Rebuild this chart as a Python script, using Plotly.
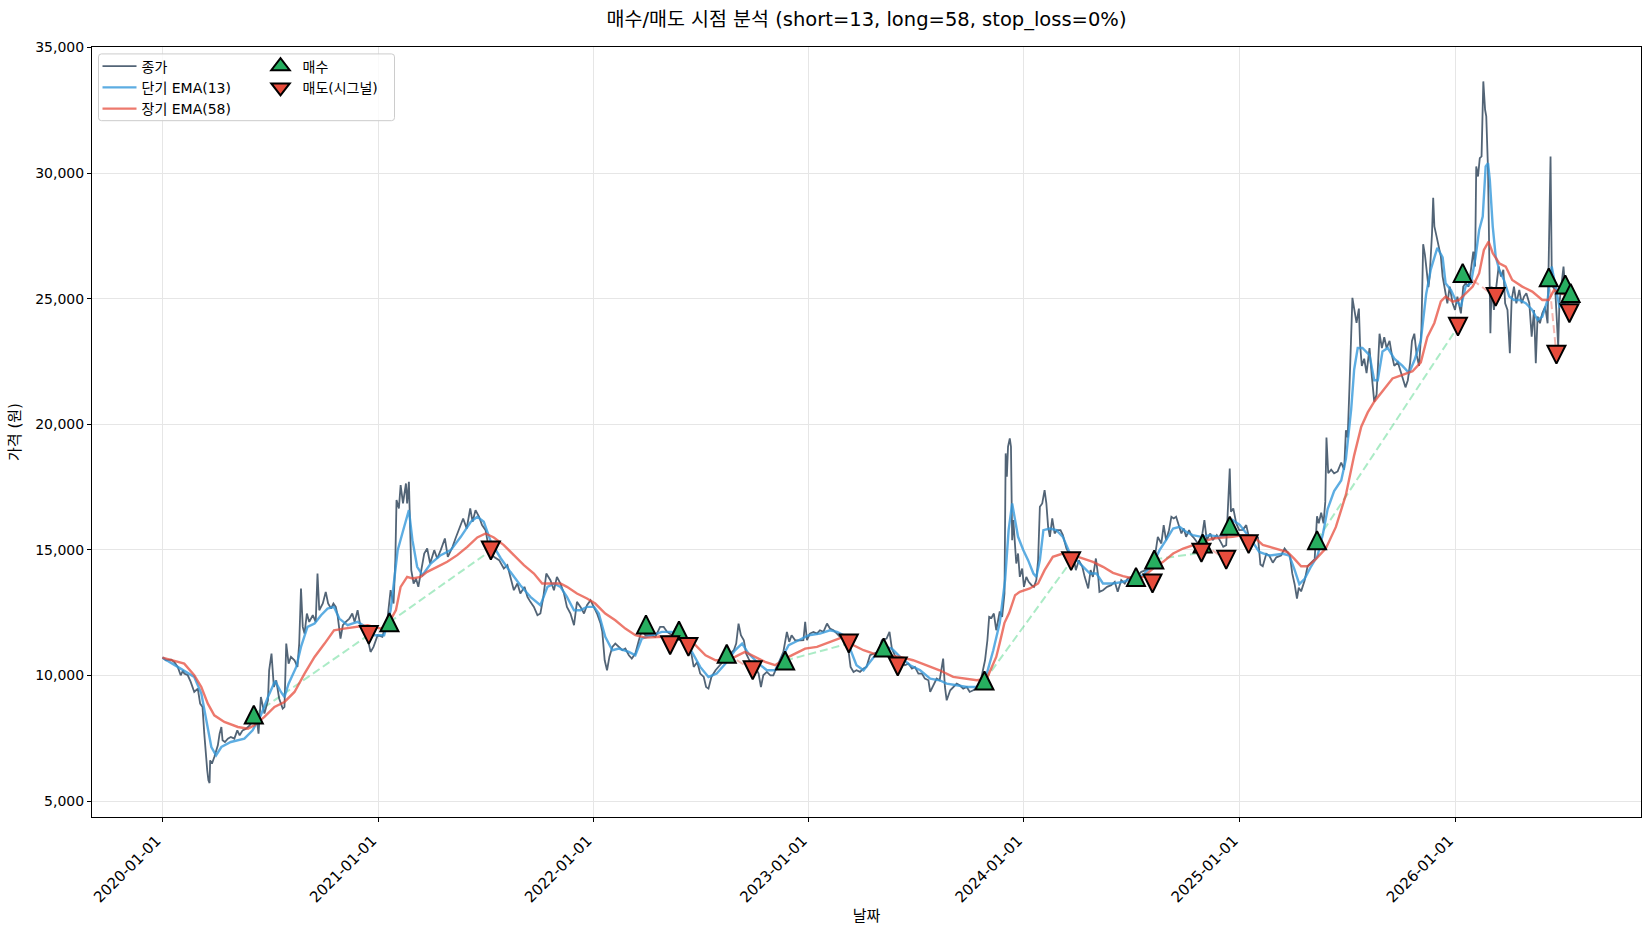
import pandas as pd
import plotly.graph_objects as go

START = pd.Timestamp("2020-01-01")

# ---- close price (day offset from START, value) ----
close_day = [
    0, 6, 15, 20, 26, 31, 35, 37, 43, 48,
    54, 60, 64, 68, 71, 74, 76, 78, 80, 81,
    84, 88, 91, 94, 97, 100, 102, 106, 111, 116,
    122, 127, 131, 136, 142, 148, 153, 157, 161, 163,
    167, 173, 179, 181, 185, 189, 193, 198, 204, 207,
    210, 214, 218, 224, 229, 232, 235, 238, 241, 245,
    249, 255, 260, 263, 266, 272, 277, 281, 286, 290,
    294, 297, 302, 306, 311, 317, 322, 326, 331, 335,
    342, 348, 353, 358, 365, 373, 382, 387, 392, 395,
    397, 401, 404, 408, 413, 415, 418, 420, 422, 426,
    430, 434, 438, 444, 449, 454, 461, 466, 472, 479,
    484, 492, 497, 505, 510, 516, 522, 526, 531, 537,
    542, 548, 554, 562, 571, 579, 585, 590, 596, 602,
    607, 614, 619, 624, 630, 636, 641, 646, 651, 658,
    664, 669, 675, 681, 686, 692, 698, 703, 709, 715,
    720, 726, 732, 737, 743, 746, 750, 754, 758, 763,
    768, 774, 780, 785, 791, 796, 802, 808, 813, 819,
    828, 836, 844, 850, 856, 864, 873, 878, 884, 890,
    897, 901, 907, 912, 918, 922, 926, 931, 938, 943,
    949, 955, 960, 969, 973, 977, 981, 986, 990, 994,
    1000, 1005, 1011, 1015, 1019, 1025, 1031, 1036, 1042, 1048,
    1053, 1059, 1063, 1067, 1073, 1082, 1087, 1090, 1093, 1098,
    1104, 1110, 1115, 1121, 1127, 1132, 1138, 1144, 1149, 1158,
    1163, 1167, 1172, 1177, 1183, 1189, 1194, 1200, 1206, 1214,
    1220, 1228, 1233, 1237, 1242, 1251, 1259, 1265, 1271, 1276,
    1282, 1288, 1293, 1299, 1302, 1307, 1313, 1318, 1324, 1327,
    1330, 1336, 1341, 1347, 1352, 1358, 1364, 1369, 1375, 1383,
    1389, 1395, 1399, 1402, 1406, 1410, 1414, 1420, 1424, 1428,
    1430, 1432, 1434, 1437, 1439, 1441, 1443, 1446, 1448, 1451,
    1454, 1458, 1461, 1465, 1469, 1474, 1478, 1482, 1485, 1488,
    1492, 1496, 1499, 1502, 1505, 1509, 1513, 1517, 1523, 1527,
    1533, 1539, 1544, 1549, 1554, 1560, 1564, 1570, 1574, 1578,
    1583, 1587, 1589, 1595, 1602, 1609, 1615, 1620, 1626, 1632,
    1637, 1643, 1652, 1660, 1668, 1675, 1683, 1688, 1694, 1698,
    1702, 1707, 1711, 1715, 1719, 1724, 1728, 1732, 1736, 1741,
    1745, 1750, 1756, 1762, 1767, 1771, 1777, 1781, 1788, 1793,
    1799, 1804, 1810, 1812, 1816, 1821, 1826, 1832, 1838, 1844,
    1852, 1858, 1862, 1866, 1872, 1877, 1883, 1889, 1897, 1903,
    1908, 1912, 1916, 1920, 1924, 1927, 1931, 1937, 1942, 1948,
    1954, 1958, 1961, 1965, 1969, 1972, 1974, 1977, 1982, 1987,
    1993, 1999, 2004, 2007, 2010, 2013, 2016, 2018, 2021, 2025,
    2029, 2031, 2034, 2038, 2042, 2047, 2051, 2055, 2059, 2064,
    2068, 2072, 2076, 2081, 2085, 2089, 2095, 2099, 2103, 2108,
    2112, 2116, 2119, 2123, 2127, 2131, 2135, 2138, 2141, 2144,
    2147, 2149, 2153, 2155, 2157, 2161, 2165, 2168, 2171, 2175,
    2179, 2183, 2188, 2192, 2196, 2202, 2206, 2210, 2215, 2219,
    2223, 2226, 2228, 2231, 2234, 2237, 2240, 2243, 2245, 2248,
    2250, 2252, 2254, 2258, 2262, 2266, 2270, 2274, 2277, 2281,
    2285, 2288, 2292, 2296, 2301, 2305, 2309, 2313, 2318, 2322,
    2326, 2329, 2332, 2336, 2340, 2345, 2349, 2351, 2354, 2356,
    2358, 2362, 2365, 2367, 2369, 2373, 2376, 2379, 2382, 2388,
]
close_val = [
    10715, 10609, 10636, 10543, 10343, 10011, 10211, 10078, 10011, 9746,
    9347, 9480, 8883, 8750, 7687, 6625, 6227, 5828, 5722, 6625,
    6492, 6758, 6957, 7223, 7687, 7953, 7422, 7356, 7488, 7555,
    7488, 7820, 7621, 7820, 7886, 8019, 8219, 8350, 8086, 7687,
    9148, 8485, 9015, 10211, 10875, 9546, 9812, 9082, 8684, 8750,
    11273, 10476, 10742, 10609, 10343, 11273, 13464, 11937, 11671, 12468,
    12136, 12402, 12136, 14062, 12601, 12867, 13331, 12867, 12667, 12867,
    12734, 12402, 11472, 12004, 12136, 12269, 12468, 12136, 12601, 12070,
    11738, 11472, 10941, 11140, 11606, 11539, 12336, 13398, 12867, 14594,
    16984, 16652, 17582, 16851, 17648, 16851, 17714, 15656, 14195, 13664,
    13863, 13531, 14062, 14859, 15058, 14461, 14992, 14660, 14992, 15457,
    14726, 15125, 15457, 15922, 16254, 15855, 16652, 16121, 16586, 16320,
    15988, 15789, 14992, 14726, 14594, 14262, 14394, 13930, 13398, 13664,
    13266, 13531, 13133, 12933, 12734, 12402, 12469, 13133, 14062, 13797,
    13398, 13930, 13664, 13266, 12734, 12469, 12004, 12933, 12734, 12469,
    12801, 13000, 12734, 12469, 12070, 11738, 10609, 10211, 10742, 11140,
    11273, 11140, 11007, 11074, 10808, 10675, 10874, 11406, 11804, 11605,
    11605, 11539, 11937, 11937, 11738, 11605, 12004, 11738, 11406, 11074,
    10874, 10343, 10543, 10078, 9945, 9546, 9480, 9945, 10211, 10343,
    10543, 10675, 10808, 11007, 11273, 12070, 11605, 11406, 10874, 10675,
    10410, 10343, 10078, 9546, 10011, 10144, 10011, 10011, 10343, 10609,
    10941, 11738, 11340, 11605, 11406, 11400, 11406, 12136, 11406, 11672,
    11738, 11672, 11804, 11738, 12070, 11871, 11804, 11672, 11539, 11406,
    11074, 10344, 10145, 10211, 10145, 10277, 10344, 10808, 10875, 10941,
    11406, 11472, 11738, 11074, 10808, 10543, 10410, 10476, 10277, 10344,
    10078, 10078, 9879, 9812, 9348, 9613, 9879, 9812, 10676, 9547,
    9016, 9414, 9547, 9680, 9613, 9480, 9547, 9348, 9414, 9547,
    9945, 10610, 11406, 12336, 12300, 12468, 11804, 12550, 12336, 13265,
    18843, 17913, 19109, 19441, 19109, 15390, 16187, 15258, 14461, 14859,
    13929, 14262, 13531, 13929, 13730, 13597, 13531, 13797, 14593, 16718,
    16851, 17382, 16851, 15921, 15523, 16253, 15656, 15789, 15789, 15589,
    15058, 14793, 14859, 14195, 14593, 14328, 13929, 13465, 14195, 13929,
    14660, 13929, 13332, 13398, 13531, 13598, 13730, 13332, 13797, 13664,
    13863, 13929, 13929, 14129, 14195, 14262, 14726, 15523, 15258, 15988,
    15390, 15789, 16320, 16253, 16320, 15921, 15656, 15855, 15523, 15789,
    15589, 15456, 15258, 15390, 16187, 15390, 15656, 15390, 15589, 15390,
    15125, 15191, 18245, 16519, 16652, 16054, 15789, 15800, 15987, 15347,
    15489, 15489, 14420, 14349, 14848, 14777, 14492, 14705, 14777, 15062,
    14919, 14777, 14065, 13637, 13068, 13495, 13352, 13780, 14349, 14492,
    14634, 16343, 16058, 16486, 16058, 16913, 19478, 18053, 18196, 18053,
    18125, 18481, 18196, 19763, 19478, 21472, 23750, 25033, 24605, 24035,
    24605, 23181, 22326, 22611, 22041, 23038, 21899, 20902, 21187, 23608,
    23038, 23465, 23038, 23323, 22753, 22326, 22469, 22184, 21899, 21472,
    21757, 22469, 23323, 23608, 22753, 22326, 23750, 27169, 26742, 26172,
    25460, 25887, 27596, 29021, 27881, 27454, 27000, 26678, 25882, 25350,
    24819, 25483, 24819, 24553, 25085, 24420, 25483, 25616, 25483, 26147,
    26877, 26280, 30264, 29866, 30596, 30663, 33650, 32521, 32256, 30131,
    26413, 23624, 25483, 24553, 25483, 26280, 25882, 26147, 24819, 24553,
    22827, 24952, 25483, 24819, 25350, 24819, 25085, 25218, 24819, 23491,
    24553, 22429, 24287, 24022, 24420, 24686, 24022, 26147, 30663, 26147,
    25483, 25350, 24022, 23093, 24819, 25616, 26280, 25350, 24952, 25100,
]

# ---- short EMA(13) ----
ema_short_day = [
    0, 37, 54, 66, 74, 83, 91, 100, 116, 139,
    153, 167, 179, 191, 201, 207, 214, 227, 235, 246,
    258, 269, 280, 291, 300, 314, 331, 345, 359, 376,
    387, 399, 410, 418, 424, 432, 441, 455, 472, 489,
    506, 523, 534, 545, 557, 574, 590, 607, 624, 641,
    653, 664, 675, 686, 698, 709, 720, 732, 740, 751,
    763, 774, 791, 802, 813, 830, 847, 864, 881, 898,
    912, 926, 940, 955, 971, 983, 994, 1011, 1025, 1039,
    1050, 1062, 1079, 1096, 1115, 1132, 1144, 1155, 1166, 1177,
    1189, 1200, 1211, 1225, 1237, 1251, 1268, 1285, 1302, 1318,
    1330, 1347, 1364, 1381, 1398, 1409, 1420, 1429, 1435, 1441,
    1446, 1451, 1460, 1468, 1477, 1482, 1488, 1494, 1505, 1516,
    1527, 1539, 1550, 1561, 1573, 1584, 1595, 1612, 1629, 1646,
    1663, 1680, 1691, 1702, 1714, 1725, 1736, 1747, 1762, 1776,
    1793, 1804, 1815, 1827, 1844, 1860, 1877, 1900, 1911, 1920,
    1928, 1937, 1948, 1959, 1968, 1976, 1987, 1999, 2007, 2016,
    2021, 2027, 2035, 2047, 2055, 2061, 2069, 2078, 2089, 2103,
    2114, 2123, 2134, 2143, 2151, 2162, 2171, 2176, 2185, 2193,
    2202, 2210, 2219, 2227, 2233, 2239, 2244, 2248, 2251, 2256,
    2261, 2267, 2275, 2284, 2292, 2301, 2312, 2323, 2332, 2340,
    2349, 2356, 2363, 2369, 2377, 2388,
]
ema_short_val = [
    10715, 10211, 9945, 9281, 8219, 7156, 6824, 7156, 7356, 7488,
    7820, 8418, 9148, 9786, 9347, 9148, 9679, 10343, 11140, 11937,
    12070, 12402, 12667, 12734, 12269, 12004, 12136, 11937, 11605, 11606,
    12602, 14992, 15922, 16586, 15391, 14328, 13996, 14461, 14793, 14992,
    15523, 16121, 16320, 16121, 15324, 14660, 14129, 13598, 13133, 12801,
    13531, 13664, 13531, 13133, 12602, 12602, 12734, 12734, 12468, 11539,
    11007, 11074, 10941, 10808, 11472, 11605, 11738, 11738, 11472, 10941,
    10343, 9945, 10078, 10476, 11007, 11273, 10874, 10476, 10211, 10211,
    10675, 11207, 11406, 11605, 11672, 11804, 11738, 11605, 11074, 10410,
    10211, 10543, 10875, 11140, 11074, 10742, 10410, 10211, 9879, 9812,
    9680, 9613, 9547, 9547, 10078, 11007, 12100, 13797, 15788, 16851,
    16187, 15523, 14992, 14593, 14062, 13929, 14593, 15789, 15855, 15789,
    15523, 14859, 14593, 14328, 14062, 14062, 13664, 13664, 13730, 13863,
    13996, 14461, 14992, 15390, 15855, 15921, 15722, 15589, 15523, 15589,
    15523, 15589, 16187, 16000, 15489, 14919, 14777, 14848, 14777, 14207,
    13637, 13851, 14349, 14777, 15632, 16629, 17341, 17768, 18623, 20617,
    22184, 23038, 23038, 22753, 21757, 21757, 22896, 23038, 22611, 22326,
    22041, 22540, 23323, 25175, 26172, 27027, 26650, 25616, 25350, 24952,
    24686, 25483, 25616, 26678, 27740, 28272, 30264, 30397, 29733, 27873,
    26678, 26147, 25749, 25085, 24952, 24952, 24819, 24553, 24155, 24287,
    24952, 26280, 25350, 24686, 24819, 24952,
]

# ---- long EMA(58) ----
ema_long_day = [
    0, 37, 54, 66, 77, 88, 105, 128, 145, 156,
    173, 190, 207, 224, 241, 258, 275, 291, 308, 331,
    348, 370, 382, 396, 404, 415, 424, 438, 449, 466,
    483, 500, 517, 534, 548, 562, 579, 596, 613, 630,
    644, 658, 675, 686, 703, 720, 734, 751, 768, 785,
    802, 819, 836, 853, 870, 887, 904, 921, 938, 955,
    971, 988, 1005, 1022, 1039, 1056, 1073, 1090, 1110, 1138,
    1155, 1172, 1189, 1206, 1228, 1251, 1273, 1296, 1318, 1341,
    1364, 1381, 1398, 1414, 1420, 1428, 1436, 1446, 1454, 1471,
    1485, 1496, 1510, 1527, 1544, 1561, 1578, 1595, 1612, 1629,
    1646, 1663, 1680, 1697, 1714, 1731, 1747, 1764, 1781, 1798,
    1815, 1832, 1849, 1866, 1889, 1908, 1920, 1931, 1942, 1956,
    1973, 1990, 2007, 2021, 2033, 2044, 2055, 2069, 2086, 2103,
    2120, 2134, 2145, 2157, 2168, 2176, 2188, 2199, 2210, 2222,
    2233, 2241, 2249, 2256, 2267, 2278, 2289, 2306, 2323, 2340,
    2351, 2360, 2371, 2388,
]
ema_long_val = [
    10715, 10476, 10011, 9546, 8883, 8418, 8152, 7953, 7886, 8019,
    8352, 8750, 8949, 9347, 10078, 10742, 11273, 11804, 11870, 11937,
    12004, 11870, 12000, 12602, 13531, 13930, 13863, 13930, 14129, 14328,
    14527, 14793, 15125, 15497, 15656, 15497, 15191, 14793, 14394, 14062,
    13664, 13664, 13664, 13531, 13266, 13067, 12867, 12468, 12203, 11870,
    11605, 11512, 11539, 11539, 11565, 11512, 11207, 10808, 10609, 10609,
    10742, 10941, 10742, 10543, 10410, 10675, 10874, 11074, 11140, 11406,
    11539, 11207, 11008, 10875, 10808, 10742, 10610, 10410, 10211, 9945,
    9879, 9812, 9879, 10742, 11300, 12100, 12500, 13200, 13332, 13465,
    13664, 14195, 14726, 14859, 14793, 14660, 14527, 14328, 14089, 13956,
    13863, 13929, 14262, 14527, 14859, 15058, 15191, 15324, 15456, 15496,
    15523, 15589, 15560, 15205, 15062, 14919, 14634, 14349, 14349, 14634,
    15062, 15916, 17198, 18766, 19905, 20475, 20902, 21329, 21827, 21970,
    22113, 22469, 23465, 24035, 24890, 25085, 24886, 24952, 25218, 25483,
    26015, 26944, 27276, 26811, 26413, 26280, 25749, 25483, 25284, 24952,
    24952, 25350, 25218, 25085,
]

# ---- signals ----
buy_day = [155, 385, 820, 876, 957, 1056, 1223, 1394, 1651, 1682, 1764, 1810,
           1958, 2205, 2351, 2379, 2388]
buy_price = [8446, 12124, 12036, 11793, 10869, 10598, 11116, 9801, 13928, 14622,
             15259, 15968, 15390, 26028, 25850, 25570, 25231]
sell_day = [350, 557, 861, 892, 1001, 1164, 1247, 1541, 1679, 1762, 1804, 1842,
            2197, 2261, 2364, 2386]
sell_price = [11618, 14980, 11207, 11140, 10211, 11275, 10358, 14554, 13665, 14886,
              14606, 15231, 23888, 25072, 22774, 24421]

year_ticks = ["2020-01-01", "2021-01-01", "2022-01-01", "2023-01-01",
              "2024-01-01", "2025-01-01", "2026-01-01"]
price_ticks = [5000, 10000, 15000, 20000, 25000, 30000, 35000]

TITLE = "매수/매도 시점 분석 (short=13, long=58, stop_loss=0%)"
FONT = "DejaVu Sans, Noto Sans CJK KR, sans-serif"
MSIZE = 18   # triangle marker size on the plot (px)


def to_dates(days):
    return [START + pd.Timedelta(days=int(d)) for d in days]


def tri(up, size, fill):
    # arrow-down with standoff = half its size is a triangle centred on the point;
    # rotating it by 180 degrees turns it into an upward triangle
    return dict(symbol="arrow-down", angle=180 if up else 0, standoff=size / 2,
                size=size, color=fill, line=dict(color="black", width=2))


fig = go.Figure()

bd, sd = to_dates(buy_day), to_dates(sell_day)
for i in range(len(sell_day)):
    win = sell_price[i] > buy_price[i]
    col = "rgba(46,204,113,0.4)" if win else "rgba(231,76,60,0.4)"
    fig.add_trace(go.Scatter(
        x=[bd[i], sd[i]], y=[buy_price[i], sell_price[i]], mode="lines",
        line=dict(color=col, width=2, dash="8px,4px"),
        showlegend=False, hoverinfo="skip"))

fig.add_trace(go.Scatter(x=to_dates(close_day), y=close_val, mode="lines", name="종가",
                         line=dict(color="rgba(52,73,94,0.85)", width=1.8), legend="legend"))
fig.add_trace(go.Scatter(x=to_dates(ema_short_day), y=ema_short_val, mode="lines",
                         name="단기 EMA(13)", line=dict(color="rgba(52,152,219,0.8)", width=2.4),
                         legend="legend"))
fig.add_trace(go.Scatter(x=to_dates(ema_long_day), y=ema_long_val, mode="lines",
                         name="장기 EMA(58)", line=dict(color="rgba(231,76,60,0.75)", width=2.4),
                         legend="legend"))
fig.add_trace(go.Scatter(x=bd, y=buy_price, mode="markers", name="매수",
                         marker=tri(True, MSIZE, "#27ae60"), showlegend=False,
                         legendgroup="buy"))
fig.add_trace(go.Scatter(x=sd, y=sell_price, mode="markers", name="매도(시그널)",
                         marker=tri(False, MSIZE, "#e74c3c"), showlegend=False,
                         legendgroup="sell"))
# legend entries for the signal markers
fig.add_trace(go.Scatter(x=[None], y=[None], mode="markers", name="매수",
                         marker=dict(symbol="triangle-up", size=16, color="#27ae60",
                                     line=dict(color="black", width=2)),
                         legend="legend2", legendgroup="buy"))
fig.add_trace(go.Scatter(x=[None], y=[None], mode="markers", name="매도(시그널)",
                         marker=dict(symbol="triangle-down", size=16, color="#e74c3c",
                                     line=dict(color="black", width=2)),
                         legend="legend2", legendgroup="sell"))

span = max(close_day) - min(close_day)
x_lo = START + pd.Timedelta(days=min(close_day) - 0.05 * span)
x_hi = START + pd.Timedelta(days=max(close_day) + 0.05 * span)

# legend frame (matplotlib-style rounded box) in paper coordinates
PW, PH = 1549.0, 769.2
bx0, bx1 = (98 - 91.5) / PW, (394 - 91.5) / PW
by0, by1 = 1 - (121 - 47.4) / PH, 1 - (54.3 - 47.4) / PH
rx, ry = 3 / PW, 3 / PH
box_path = (f"M {bx0+rx},{by0} L {bx1-rx},{by0} Q {bx1},{by0} {bx1},{by0+ry} "
            f"L {bx1},{by1-ry} Q {bx1},{by1} {bx1-rx},{by1} L {bx0+rx},{by1} "
            f"Q {bx0},{by1} {bx0},{by1-ry} L {bx0},{by0+ry} Q {bx0},{by0} {bx0+rx},{by0} Z")

fig.update_layout(
    width=1650, height=930,
    margin=dict(l=92, r=9, t=47, b=113, autoexpand=False),
    paper_bgcolor="white", plot_bgcolor="white",
    font=dict(family=FONT, size=14, color="#000000"),
    title=dict(text=TITLE, x=0.5, xref="paper", xanchor="center",
               y=1 - 19 / 930, yref="container", yanchor="middle",
               font=dict(size=19.5, color="#000000")),
    xaxis=dict(type="date", range=[x_lo, x_hi], tickmode="array",
               tickvals=year_ticks, ticktext=year_ticks, tickangle=-45,
               ticklabelshift=-6, ticklabelstandoff=4, automargin=False,
               showgrid=True, gridcolor="#e6e6e6", gridwidth=1, zeroline=False,
               showline=True, linecolor="black", linewidth=1, mirror=True,
               ticks="outside", ticklen=4, tickcolor="black", tickfont=dict(size=15),
               title=dict(text="날짜", font=dict(size=15), standoff=5)),
    yaxis=dict(range=[4370, 35020], tickmode="array", tickvals=price_ticks,
               tickformat=",d", showgrid=True, gridcolor="#e6e6e6", gridwidth=1,
               zeroline=False, showline=True, linecolor="black", linewidth=1, mirror=True,
               ticks="outside", ticklen=4, tickcolor="black", tickfont=dict(size=14),
               automargin=False,
               title=dict(text="가격 (원)", font=dict(size=15), standoff=10)),
    legend=dict(x=(97 - 91.5) / PW, y=1 - (51 - 47.4) / PH, xanchor="left", yanchor="top",
                bgcolor="rgba(0,0,0,0)", borderwidth=0, font=dict(size=14),
                itemwidth=34, tracegroupgap=0),
    legend2=dict(x=(258 - 91.5) / PW, y=1 - (51 - 47.4) / PH, xanchor="left", yanchor="top",
                 bgcolor="rgba(0,0,0,0)", borderwidth=0, font=dict(size=14),
                 itemwidth=34, tracegroupgap=0),
    shapes=[dict(type="path", path=box_path, xref="paper", yref="paper", layer="above",
                 fillcolor="rgba(255,255,255,0.8)", line=dict(color="#cccccc", width=1))],
    showlegend=True,
)

fig.write_html("out.html")
